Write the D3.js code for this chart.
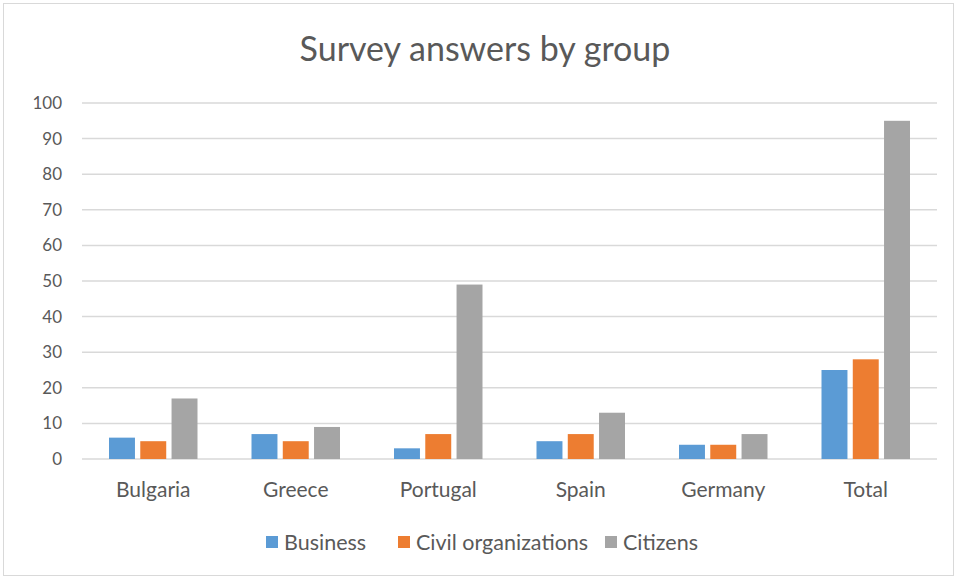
<!DOCTYPE html>
<html>
<head>
<meta charset="utf-8">
<script src="https://cdn.jsdelivr.net/npm/d3@7"></script>
<style>
body { margin: 0; background: #fff; }
svg text { font-family: Lato, "Open Sans", sans-serif; fill: #595959; }
</style>
</head>
<body>
<div id="chart"></div>
<script>
var categories = ["Bulgaria", "Greece", "Portugal", "Spain", "Germany", "Total"];
var seriesNames = ["Business", "Civil organizations", "Citizens"];
var business = [6, 7, 3, 5, 4, 25];
var civil = [5, 5, 7, 7, 4, 28];
var citizens = [17, 9, 49, 13, 7, 95];
var yTicks = [0, 10, 20, 30, 40, 50, 60, 70, 80, 90, 100];
var colors = ["#5B9BD5", "#ED7D31", "#A5A5A5"];

var width = 956, height = 578;
var svg = d3.select("#chart").append("svg").attr("width", width).attr("height", height);

// outer chart border
svg.append("rect").attr("x", 3.5).attr("y", 3.5).attr("width", width - 6).attr("height", height - 6)
	.attr("fill", "#fff").attr("stroke", "#D9D9D9").attr("stroke-width", 1);

var stx = 82, enx = 937;
var sty = 103, eny = 459;

var x = d3.scaleBand().domain(categories).range([stx, enx]);
var xs = d3.scaleBand().domain(seriesNames).range([27, x.bandwidth() - 27]).paddingInner(0.17);
var y = d3.scaleLinear().domain([0, 100]).range([eny, sty]);

// gridlines
svg.selectAll(".grid").data(yTicks).enter().append("line")
	.attr("x1", stx).attr("x2", enx)
	.attr("y1", function(d) { return y(d); }).attr("y2", function(d) { return y(d); })
	.attr("stroke", "#D9D9D9").attr("stroke-width", 1.5);

// y labels
svg.selectAll(".ylab").data(yTicks).enter().append("text")
	.attr("x", 62).attr("y", function(d) { return y(d); })
	.attr("dy", "0.35em").attr("text-anchor", "end")
	.style("font-size", "17px").text(function(d) { return d; });

var series = [business, civil, citizens];
for (var s = 0; s < series.length; s++) {
	svg.selectAll(".bar" + s).data(series[s]).enter().append("rect")
		.attr("x", function(d, i) { return x(categories[i]) + xs(seriesNames[s]); })
		.attr("y", function(d) { return y(d); })
		.attr("width", xs.bandwidth())
		.attr("height", function(d) { return eny - y(d); })
		.attr("fill", colors[s]);
}

// category labels
svg.selectAll(".xlab").data(categories).enter().append("text")
	.attr("x", function(d) { return x(d) + x.bandwidth() / 2; })
	.attr("y", 497).attr("text-anchor", "middle")
	.style("font-size", "21px").text(function(d) { return d; });

// title
svg.append("text").attr("x", 485).attr("y", 61).attr("text-anchor", "middle")
	.style("font-size", "34px").text("Survey answers by group");

// legend
var legendX = [266, 398, 605];
var lg = svg.selectAll(".leg").data(seriesNames).enter().append("g")
	.attr("transform", function(d, i) { return "translate(" + legendX[i] + ",542)"; });
lg.append("rect").attr("x", 0).attr("y", -6).attr("width", 12).attr("height", 12)
	.attr("fill", function(d, i) { return colors[i]; });
lg.append("text").attr("x", 18).attr("y", 0).attr("dy", "0.35em")
	.style("font-size", "21.5px").text(function(d) { return d; });
</script>
</body>
</html>
